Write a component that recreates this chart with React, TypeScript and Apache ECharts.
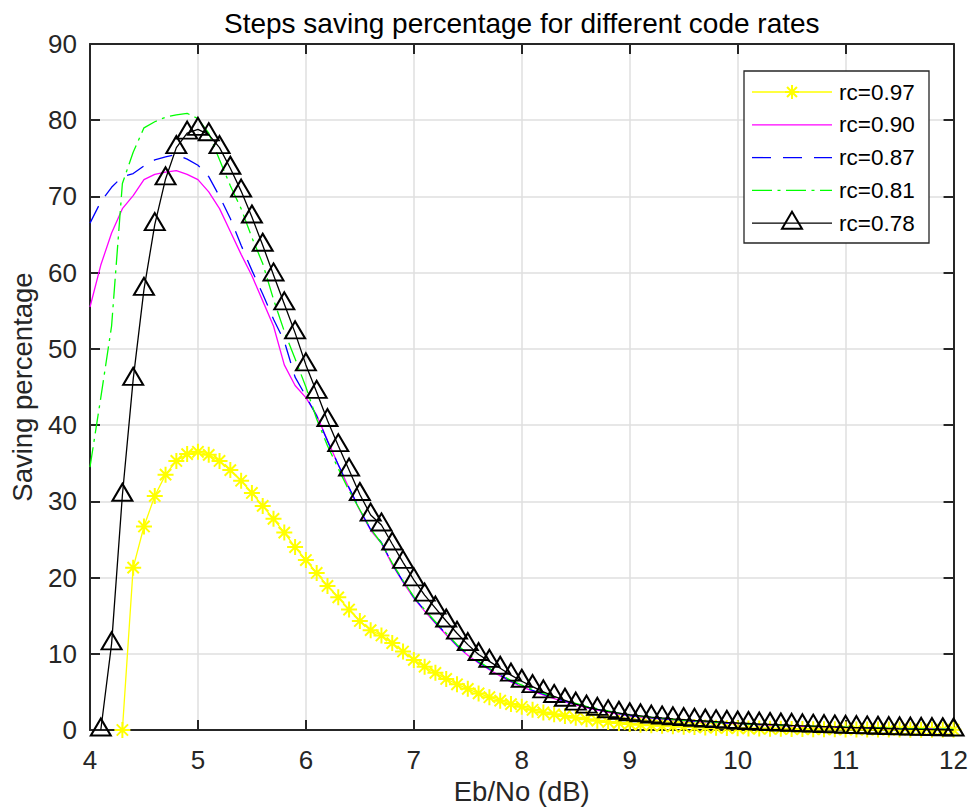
import React, { useEffect, useRef } from "react";
import * as echarts from "echarts";

// ---- data -------------------------------------------------------------
const TITLE = "Steps saving percentage for different code rates";
const X_NAME = "Eb/No (dB)";
const Y_NAME = "Saving percentage";

const X_MIN = 4;
const X_MAX = 12;
const X_INTERVAL = 1;
const Y_MIN = 0;
const Y_MAX = 90;
const Y_INTERVAL = 10;

// Eb/No sampling step (dB) shared by all curves
const EBNO_STEP = 0.1;

const SERIES_NAMES = ["rc=0.97", "rc=0.90", "rc=0.87", "rc=0.81", "rc=0.78"];
const SERIES_COLORS = ["#ffff00", "#ff00ff", "#0000ff", "#00ff00", "#000000"];
// first Eb/No value of each curve
const SERIES_START = [4.3, 4.0, 4.0, 4.0, 4.1];

const rc097 = [
  0, 21.3, 26.7, 30.7, 33.5, 35.3, 36.2,
  36.5, 36.1, 35.3, 34.1, 32.7, 31.1, 29.4, 27.7, 25.9, 24.0,
  22.3, 20.6, 18.9, 17.4, 15.8, 14.3, 13.1, 12.4, 11.4, 10.3,
  9.2, 8.3, 7.5, 6.7, 6.0, 5.4, 4.8, 4.3, 3.85, 3.4,
  3.05, 2.65, 2.3, 2.05, 1.85, 1.6, 1.4, 1.22, 1.05, 0.92,
  0.8, 0.7, 0.62, 0.55, 0.48, 0.43, 0.38, 0.34, 0.3, 0.27,
  0.24, 0.21, 0.19, 0.17, 0.15, 0.13, 0.12, 0.11, 0.1, 0.09,
  0.08, 0.07, 0.06, 0.06, 0.05, 0.05, 0.04, 0.04, 0.03, 0.03,
  0.03,
];

const rc090 = [
  55.5, 61.0, 65.2, 68.4, 70.1, 72.2, 72.9, 73.2, 73.4, 72.9,
  72.2, 70.6, 68.4, 65.4, 62.4, 59.6, 56.3, 53.0, 47.9, 45.2,
  43.6, 41.3, 38.0, 34.8, 31.7, 28.8, 26.2, 24.5, 21.7, 19.4,
  17.3, 15.6, 14.0, 12.5, 11.0, 9.8, 8.8, 7.9, 7.1, 6.3,
  5.7, 5.1, 4.6, 4.1, 3.7, 3.3, 2.9, 2.6, 2.3, 2.1,
  1.85, 1.7, 1.56, 1.44, 1.33, 1.23, 1.14, 1.05, 0.97, 0.9,
  0.83, 0.76, 0.7, 0.64, 0.59, 0.54, 0.49, 0.45, 0.41, 0.37,
  0.33, 0.29, 0.26, 0.23, 0.2, 0.17, 0.14, 0.12, 0.1, 0.08,
  0.06,
];

const rc087 = [
  66.5, 69.3, 71.2, 72.6, 73.0, 74.0, 74.8, 75.2, 75.5, 74.9,
  74.1, 72.6, 70.0, 67.1, 63.6, 60.3, 57.2, 53.9, 51.0, 46.3,
  43.8, 41.2, 37.9, 34.8, 31.8, 28.9, 26.3, 24.6, 21.8, 19.5,
  17.4, 15.7, 14.1, 12.6, 11.1, 9.9, 8.9, 8.0, 7.2, 6.4,
  5.8, 5.2, 4.7, 4.2, 3.8, 3.4, 3.0, 2.7, 2.4, 2.15,
  1.9, 1.75, 1.6, 1.48, 1.36, 1.26, 1.16, 1.07, 0.99, 0.92,
  0.85, 0.78, 0.72, 0.66, 0.61, 0.56, 0.51, 0.47, 0.43, 0.39,
  0.35, 0.31, 0.28, 0.25, 0.22, 0.19, 0.16, 0.14, 0.12, 0.1,
  0.08,
];

const rc081 = [
  34.5, 43.6, 53.0, 71.7, 75.8, 79.0, 79.8, 80.4, 80.7, 80.9,
  80.2, 78.3, 74.8, 71.4, 68.4, 64.6, 61.2, 56.5, 52.3, 48.7,
  45.0, 40.8, 37.3, 34.3, 31.4, 28.9, 26.4, 24.5, 21.9, 19.6,
  17.5, 15.8, 14.2, 12.7, 11.2, 10.0, 9.0, 8.1, 7.3, 6.5,
  5.9, 5.3, 4.8, 4.3, 3.9, 3.5, 3.1, 2.8, 2.5, 2.2,
  1.95, 1.8, 1.65, 1.5, 1.38, 1.28, 1.18, 1.09, 1.0, 0.93,
  0.86, 0.79, 0.73, 0.67, 0.62, 0.57, 0.52, 0.48, 0.44, 0.4,
  0.36, 0.32, 0.29, 0.26, 0.23, 0.2, 0.17, 0.15, 0.13, 0.11,
  0.09,
];

const rc078 = [
  0, 11.3, 30.8, 46.0, 57.8, 66.3, 72.3, 76.4, 78.3,
  78.8, 78.1, 76.4, 73.7, 70.7, 67.3, 63.6, 59.7, 55.9, 52.1,
  47.9, 44.3, 40.6, 37.3, 34.1, 30.9, 28.2, 26.9, 24.4, 22.0,
  19.7, 17.7, 16.0, 14.3, 12.7, 11.2, 9.9, 9.0, 8.1, 7.2,
  6.4, 5.7, 5.0, 4.4, 3.9, 3.4, 3.0, 2.7, 2.4, 2.2,
  2.0, 1.85, 1.7, 1.58, 1.47, 1.37, 1.27, 1.18, 1.09, 1.0,
  0.92, 0.85, 0.78, 0.72, 0.66, 0.6, 0.55, 0.5, 0.45, 0.4,
  0.35, 0.31, 0.27, 0.23, 0.19, 0.15, 0.12, 0.09, 0.06, 0.03,
  0.0,
];

const SERIES_VALUES = [rc097, rc090, rc087, rc081, rc078];

// ---- styling ----------------------------------------------------------
const FONT = "'Liberation Sans', Arial, Helvetica, sans-serif";
const AXIS_COLOR = "#262626";
const GRID_COLOR = "#dfdfdf";

const STAR_PATH =
  "path://M10 0L10 20M0 10L20 10M2.93 2.93L17.07 17.07M2.93 17.07L17.07 2.93";

type LineKind = {
  dash: number[] | null;
  marker: "star" | "triangle" | null;
};

const SERIES_KIND: LineKind[] = [
  { dash: null, marker: "star" },
  { dash: null, marker: null },
  { dash: [19, 12], marker: null },
  { dash: [20, 5.5, 3, 5.5], marker: null },
  { dash: null, marker: "triangle" },
];

const LINE_WIDTH = 1.3;

function toPairs(start: number, values: number[]) {
  return values.map((v, i) => [Math.round((start + i * EBNO_STEP) * 10) / 10, v]);
}

function buildSeries() {
  return SERIES_NAMES.map((name, i) => {
    const kind = SERIES_KIND[i];
    const color = SERIES_COLORS[i];
    const base: any = {
      type: "line",
      name,
      data: toPairs(SERIES_START[i], SERIES_VALUES[i]),
      xAxisIndex: 0,
      yAxisIndex: 0,
      clip: false,
      silent: true,
      animation: false,
      emphasis: { disabled: true },
      lineStyle: {
        color,
        width: LINE_WIDTH,
        type: kind.dash ? kind.dash : "solid",
      },
      z: 2 + i,
    };
    if (kind.marker === "star") {
      Object.assign(base, {
        symbol: STAR_PATH,
        symbolSize: 16,
        showSymbol: true,
        showAllSymbol: true,
        itemStyle: { color, borderColor: color, borderWidth: 2 },
      });
    } else if (kind.marker === "triangle") {
      Object.assign(base, {
        symbol: "triangle",
        symbolSize: [20, 17],
        symbolOffset: [0, -3],
        showSymbol: true,
        showAllSymbol: true,
        itemStyle: { color: "rgba(0,0,0,0)", borderColor: color, borderWidth: 2 },
      });
    } else {
      Object.assign(base, { symbol: "none", showSymbol: false, itemStyle: { color } });
    }
    return base;
  });
}

// legend box drawn with graphic elements
const LEGEND_BOX = { x: 744, y: 71, width: 185, height: 172 };
const LEGEND_ROW0 = 92;
const LEGEND_ROW_GAP = 32.8;
const LEGEND_LINE_X1 = 752;
const LEGEND_LINE_X2 = 832;
const LEGEND_TEXT_X = 839;

function buildLegend() {
  const els: any[] = [
    {
      type: "rect",
      shape: { ...LEGEND_BOX },
      style: { fill: "#ffffff", stroke: AXIS_COLOR, lineWidth: 1.3 },
      z: 100,
      silent: true,
    },
  ];
  const mid = (LEGEND_LINE_X1 + LEGEND_LINE_X2) / 2;
  SERIES_NAMES.forEach((name, i) => {
    const y = LEGEND_ROW0 + i * LEGEND_ROW_GAP;
    const kind = SERIES_KIND[i];
    const color = SERIES_COLORS[i];
    els.push({
      type: "line",
      shape: { x1: LEGEND_LINE_X1, y1: y, x2: LEGEND_LINE_X2, y2: y },
      style: { stroke: color, lineWidth: LINE_WIDTH, lineDash: kind.dash || null },
      z: 101,
      silent: true,
    });
    if (kind.marker === "star") {
      const r = 7;
      const d = r * 0.7071;
      const arms = [
        [0, -r, 0, r],
        [-r, 0, r, 0],
        [-d, -d, d, d],
        [-d, d, d, -d],
      ];
      arms.forEach((a) =>
        els.push({
          type: "line",
          shape: { x1: mid + a[0], y1: y + a[1], x2: mid + a[2], y2: y + a[3] },
          style: { stroke: color, lineWidth: 2 },
          z: 102,
          silent: true,
        })
      );
    } else if (kind.marker === "triangle") {
      els.push({
        type: "polygon",
        shape: {
          points: [
            [mid, y - 11.5],
            [mid + 10, y + 5.5],
            [mid - 10, y + 5.5],
          ],
        },
        style: { fill: "none", stroke: color, lineWidth: 2 },
        z: 102,
        silent: true,
      });
    }
    els.push({
      type: "text",
      x: LEGEND_TEXT_X,
      y,
      style: {
        text: name,
        fill: "#000000",
        font: `22.5px ${FONT}`,
        align: "left",
        verticalAlign: "middle",
        textAlign: "left",
        textVerticalAlign: "middle",
      },
      z: 102,
      silent: true,
    });
  });
  return els;
}

const axisLineStyle = { show: true, onZero: false, lineStyle: { color: AXIS_COLOR, width: 2 } };
const axisTickStyle = { show: true, inside: true, length: 10, lineStyle: { color: AXIS_COLOR, width: 2 } };

export default function App() {
  const ref = useRef<HTMLDivElement>(null);

  useEffect(() => {
    if (!ref.current) return;
    const chart = echarts.init(ref.current, undefined, { renderer: "svg" });
    chart.setOption({
      animation: false,
      backgroundColor: "#ffffff",
      grid: { left: 88, right: 17, top: 44, bottom: 82, containLabel: false },
      xAxis: [
        {
          type: "value",
          position: "bottom",
          min: X_MIN,
          max: X_MAX,
          interval: X_INTERVAL,
          axisLine: axisLineStyle,
          axisTick: axisTickStyle,
          axisLabel: { margin: 17, fontSize: 26, color: AXIS_COLOR, fontFamily: FONT },
          splitLine: { show: true, lineStyle: { color: GRID_COLOR, width: 1.5 } },
          name: X_NAME,
          nameLocation: "middle",
          nameGap: 47,
          nameTextStyle: { fontSize: 27.5, color: AXIS_COLOR, fontFamily: FONT },
        },
        {
          type: "value",
          position: "top",
          min: X_MIN,
          max: X_MAX,
          interval: X_INTERVAL,
          axisLine: axisLineStyle,
          axisTick: axisTickStyle,
          axisLabel: { show: false },
          splitLine: { show: false },
          name: TITLE,
          nameLocation: "middle",
          nameGap: 7,
          nameTextStyle: { fontSize: 28, color: "#000000", fontFamily: FONT },
        },
      ],
      yAxis: [
        {
          type: "value",
          position: "left",
          min: Y_MIN,
          max: Y_MAX,
          interval: Y_INTERVAL,
          axisLine: axisLineStyle,
          axisTick: axisTickStyle,
          axisLabel: {
            margin: 13,
            fontSize: 26,
            color: AXIS_COLOR,
            fontFamily: FONT,
            padding: [4, 0, 0, 0],
          },
          splitLine: { show: true, lineStyle: { color: GRID_COLOR, width: 1.5 } },
          name: Y_NAME,
          nameLocation: "middle",
          nameGap: 54,
          nameTextStyle: { fontSize: 27.5, color: AXIS_COLOR, fontFamily: FONT },
        },
        {
          type: "value",
          position: "right",
          min: Y_MIN,
          max: Y_MAX,
          interval: Y_INTERVAL,
          axisLine: axisLineStyle,
          axisTick: axisTickStyle,
          axisLabel: { show: false },
          splitLine: { show: false },
        },
      ],
      series: buildSeries(),
      graphic: { elements: buildLegend() },
    });
    return () => chart.dispose();
  }, []);

  return (
    <div
      ref={ref}
      style={{ position: "absolute", left: 0, top: 0, width: 971, height: 812, background: "#fff" }}
    />
  );
}
